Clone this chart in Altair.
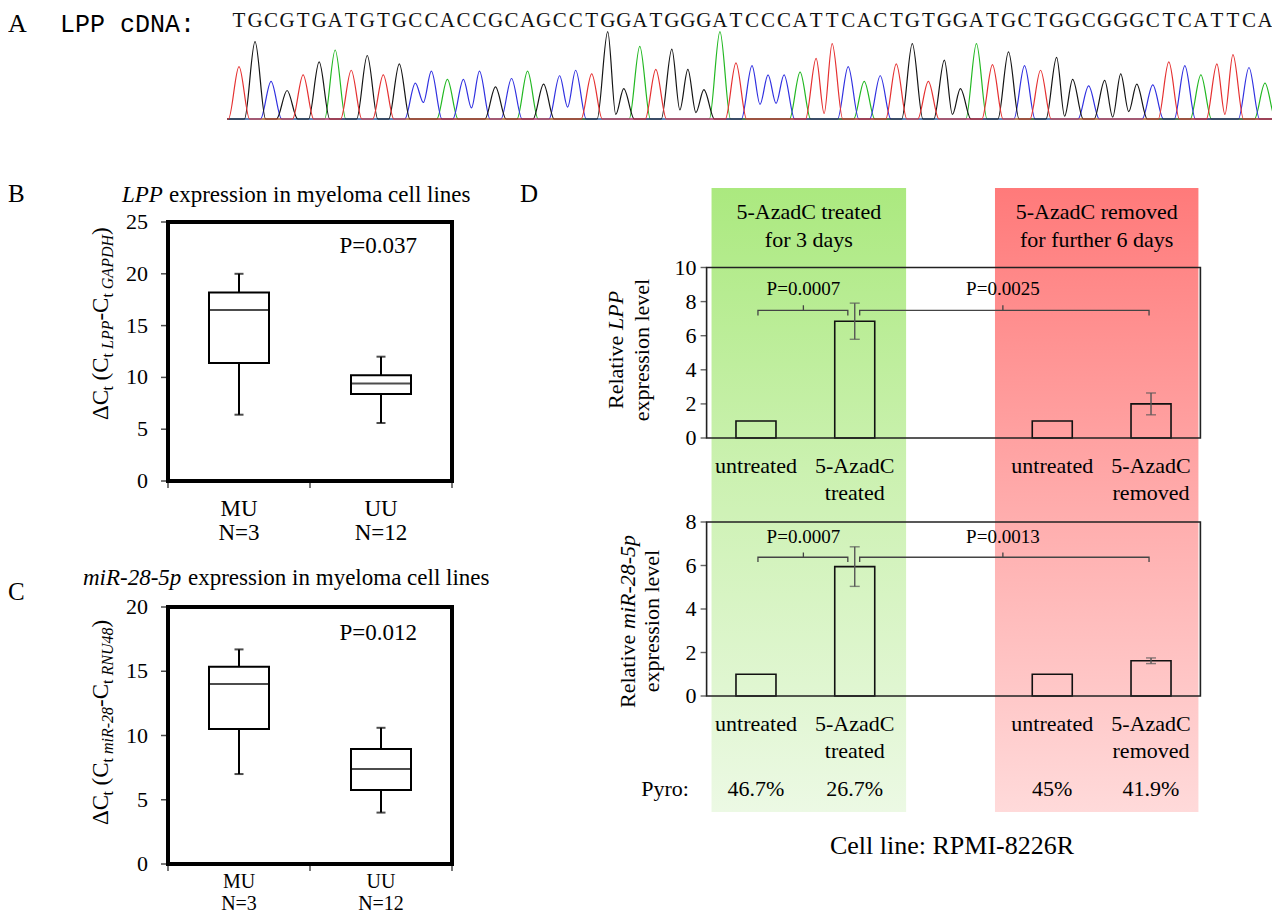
import altair as alt
import pandas as pd

SERIF = "Liberation Serif"
MONO = "Liberation Mono"

# ---------------- Panel A: LPP cDNA sequencing trace ----------------
SEQUENCE = "TGCGTGATGTGCCACCGCAGCCTGGATGGGATCCCATTCACTGTGGATGCTGGCGGGCTCATTCA"
PEAK_HEIGHTS = [57, 84, 41, 31, 48, 62, 75, 53, 69, 48, 60, 39, 52, 43, 43, 52,
                35, 44, 52, 38, 47, 53, 49, 95, 33, 79, 54, 76, 54, 32, 95, 61,
                58, 48, 48, 51, 66, 82, 57, 41, 47, 60, 82, 41, 64, 33, 82, 59, 73,
                58, 53, 67, 43, 36, 42, 49, 38, 37, 62, 58, 48, 60, 70, 56, 39]
VALLEY_AFTER = [11, 14, 20, 23, 27, 28, 32, 33, 36, 44, 51, 54, 55, 61]
VALLEY_HEIGHT = [18, 12, 13, 5, 10, 7, 16, 17, 6, 5, 3, 2, 8, 5]
BASES = ["A", "C", "G", "T"]
BASE_COLORS = ["#22b822", "#3030e0", "#151515", "#e53030"]

# ---------------- Panels B and C: box plots ----------------
GROUPS = ["MU\nN=3", "UU\nN=12"]
B_MIN = [6.4, 5.6]
B_Q1 = [11.4, 8.4]
B_MED = [16.5, 9.4]
B_Q3 = [18.2, 10.2]
B_MAX = [20.0, 12.0]
B_TICKS = [0, 5, 10, 15, 20, 25]
C_MIN = [7.0, 4.0]
C_Q1 = [10.5, 5.75]
C_MED = [14.0, 7.4]
C_Q3 = [15.35, 8.95]
C_MAX = [16.7, 10.6]
C_TICKS = [0, 5, 10, 15, 20]

# ---------------- Panel D: bar charts ----------------
D_LABELS = ["untreated", "5-AzadC\ntreated", "untreated", "5-AzadC\nremoved"]
D_SLOTS = [0, 1, 3, 4]
LPP_MEAN = [1.0, 6.85, 1.0, 2.0]
LPP_SD = [0.0, 1.06, 0.0, 0.64]
MIR_MEAN = [1.0, 5.95, 1.0, 1.62]
MIR_SD = [0.0, 0.91, 0.0, 0.13]
LPP_TICKS = [0, 2, 4, 6, 8, 10]
MIR_TICKS = [0, 2, 4, 6, 8]
LPP_P = ["P=0.0007", "P=0.0025"]
MIR_P = ["P=0.0007", "P=0.0013"]
BRACKET_FROM = [0.02, 1.05]
BRACKET_TO = [0.93, 3.98]
BRACKET_MID = [0.48, 2.5]
PYRO = ["46.7%", "26.7%", "45%", "41.9%"]
BAND_FROM = [-0.45, 2.42]
BAND_TO = [1.52, 4.48]
BAND_HEADERS = ["5-AzadC treated\nfor 3 days", "5-AzadC removed\nfor further 6 days"]

# ---------------- layout (chart pixels) ----------------
A_X_RANGE = [231, 1257]
A_Y_RANGE = [111, 19]
BOX_X_RANGE = [155, 449]
B_Y_RANGE = [473, 214]
C_Y_RANGE = [856, 599]
D_X_RANGE = [693.6, 1197.4]
DT_Y_RANGE = [430, 259.5]
DB_Y_RANGE = [688, 514]


def lin(domain, rng):
    return alt.Scale(domain=domain, range=rng, nice=False, zero=False)


def qx(field, scale):
    return alt.X(f"{field}:Q", scale=scale, axis=None)


def qy(field, scale):
    return alt.Y(f"{field}:Q", scale=scale, axis=None)


def text_at(text, x, y, size, align="left", baseline="alphabetic", angle=0,
            style="normal", font=SERIF, line_height=None):
    props = dict(font=font, fontSize=size, align=align, baseline=baseline,
                 fontStyle=style, color="black")
    if angle:
        props["angle"] = angle
    if "\n" in text:
        props["lineBreak"] = "\n"
        props["lineHeight"] = line_height or round(size * 1.2)
    return alt.Chart(pd.DataFrame({"t": [text]})).mark_text(**props).encode(
        text="t:N", x=alt.value(x), y=alt.value(y))


# ---------------- Panel A ----------------
valley = dict(zip(VALLEY_AFTER, VALLEY_HEIGHT))
trace_rows = []
for base in BASES:
    idx = [i for i, b in enumerate(SEQUENCE) if b == base]
    pts = [(-0.75, 0.0)]
    for k, i in enumerate(idx):
        if not (k > 0 and idx[k - 1] == i - 1):
            pts.append((i - 0.66, 0.0))
        pts.append((i, PEAK_HEIGHTS[i]))
        if i in valley:
            pts.append((i + 0.5, valley[i]))
        else:
            pts.append((i + 0.66, 0.0))
    pts.append((64.9, 0.0))
    for k, (x, h) in enumerate(pts):
        trace_rows.append({"base": base, "x": x, "h": h, "k": k})

xa = lin([0, 64], A_X_RANGE)
ya = lin([0, 100], A_Y_RANGE)
traces = alt.Chart(pd.DataFrame(trace_rows)).mark_line(
    interpolate="monotone", strokeWidth=1.2).encode(
    x=qx("x", xa), y=qy("h", ya),
    color=alt.Color("base:N", scale=alt.Scale(domain=BASES, range=BASE_COLORS), legend=None),
    order=alt.Order("k:Q"))
letters = alt.Chart(pd.DataFrame({"i": list(range(len(SEQUENCE))), "b": list(SEQUENCE)})).mark_text(
    font=SERIF, fontSize=21, baseline="alphabetic", color="#111").encode(
    x=qx("i", xa), text="b:N", y=alt.value(19))
panel_a = alt.layer(traces, letters)


# ---------------- Panels B / C ----------------
def box_panel(mins, q1, med, q3, maxs, ticks, ymax, yrange, p_text, p_y, cat_size, cat_dy, cat_lh):
    xs = lin([0, 2], BOX_X_RANGE)
    ys = lin([0, ymax], yrange)
    df = pd.DataFrame({"pos": [0.5, 1.5], "lo": mins, "q1": q1, "med": med,
                       "q3": q3, "hi": maxs, "lab": GROUPS, "zero": [0, 0]})
    base = alt.Chart(df)
    whisk = base.mark_rule(color="black", strokeWidth=2).encode(
        x=qx("pos", xs), y=qy("lo", ys), y2="hi:Q")
    cap_lo = base.mark_tick(orient="horizontal", size=9, thickness=2, color="black").encode(
        x=qx("pos", xs), y=qy("lo", ys))
    cap_hi = base.mark_tick(orient="horizontal", size=9, thickness=2, color="black").encode(
        x=qx("pos", xs), y=qy("hi", ys))
    box = base.mark_bar(size=60, fill="white", stroke="black", strokeWidth=2).encode(
        x=qx("pos", xs), y=qy("q1", ys), y2="q3:Q")
    median = base.mark_tick(orient="horizontal", size=60, thickness=2, color="black").encode(
        x=qx("pos", xs), y=qy("med", ys))
    cats = base.mark_text(font=SERIF, fontSize=cat_size, dy=cat_dy, lineBreak="\n",
                          lineHeight=cat_lh, baseline="alphabetic", color="black").encode(
        x=qx("pos", xs), y=qy("zero", ys), text="lab:N")
    tdf = pd.DataFrame({"v": ticks, "x0": [0] * len(ticks), "lab": [str(t) for t in ticks]})
    yt = alt.Chart(tdf).mark_tick(orient="horizontal", size=6, thickness=1.5,
                                  xOffset=-4, color="black").encode(x=qx("x0", xs), y=qy("v", ys))
    yl = alt.Chart(tdf).mark_text(font=SERIF, fontSize=22, align="right", baseline="middle",
                                  dx=-20, color="black").encode(
        x=qx("x0", xs), y=qy("v", ys), text="lab:N")
    xdf = pd.DataFrame({"p": [0, 1, 2], "y0": [0, 0, 0]})
    xt = alt.Chart(xdf).mark_tick(orient="vertical", size=6, thickness=1.5, yOffset=4,
                                  color="black").encode(x=qx("p", xs), y=qy("y0", ys))
    pdf = pd.DataFrame({"x": [1.48], "y": [p_y], "t": [p_text]})
    ptxt = alt.Chart(pdf).mark_text(font=SERIF, fontSize=23, baseline="middle",
                                    color="black").encode(x=qx("x", xs), y=qy("y", ys), text="t:N")
    fdf = pd.DataFrame({"x0": [0], "x1": [2], "y0": [0], "y1": [ymax]})
    frame = alt.Chart(fdf).mark_rect(fill="white", fillOpacity=0, stroke="black",
                                     strokeWidth=4).encode(
        x=qx("x0", xs), x2="x1:Q", y=qy("y0", ys), y2="y1:Q")
    return alt.layer(whisk, cap_lo, cap_hi, box, median, yt, yl, xt, cats, ptxt, frame)


panel_b = box_panel(B_MIN, B_Q1, B_MED, B_Q3, B_MAX, B_TICKS, 25, B_Y_RANGE, "P=0.037", 22.7,
                    23, 35, 24)
panel_c = box_panel(C_MIN, C_Q1, C_MED, C_Q3, C_MAX, C_TICKS, 20, C_Y_RANGE, "P=0.012", 18.0,
                    20, 24, 22)

# ---------------- Panel D ----------------
xd = lin([-0.5, 4.5], D_X_RANGE)


def bar_panel(means, sds, ticks, ymax, yrange, p_texts, level, depth, p_y, label_y):
    ys = lin([0, ymax], yrange)
    df = pd.DataFrame({"slot": D_SLOTS, "mean": means, "zero": [0] * 4, "lab": D_LABELS,
                       "lo": [m - s for m, s in zip(means, sds)],
                       "hi": [m + s for m, s in zip(means, sds)], "sd": sds})
    bars = alt.Chart(df).mark_bar(size=40, fill="white", fillOpacity=0, stroke="#111",
                                  strokeWidth=1.6).encode(
        x=qx("slot", xd), y=qy("zero", ys), y2="mean:Q")
    edf = df[df["sd"] > 0]
    err = alt.Chart(edf).mark_rule(color="#555", strokeWidth=1.4).encode(
        x=qx("slot", xd), y=qy("lo", ys), y2="hi:Q")
    cap1 = alt.Chart(edf).mark_tick(orient="horizontal", size=10, thickness=1.4, color="#555").encode(
        x=qx("slot", xd), y=qy("lo", ys))
    cap2 = alt.Chart(edf).mark_tick(orient="horizontal", size=10, thickness=1.4, color="#555").encode(
        x=qx("slot", xd), y=qy("hi", ys))
    fdf = pd.DataFrame({"x0": [-0.5], "x1": [4.5], "y0": [0], "y1": [ymax]})
    frame = alt.Chart(fdf).mark_rect(fill="white", fillOpacity=0, stroke="#222",
                                     strokeWidth=1.6).encode(
        x=qx("x0", xd), x2="x1:Q", y=qy("y0", ys), y2="y1:Q")
    tdf = pd.DataFrame({"v": ticks, "x0": [-0.5] * len(ticks), "lab": [str(t) for t in ticks]})
    yt = alt.Chart(tdf).mark_tick(orient="horizontal", size=6, thickness=1.4, xOffset=-3,
                                  color="#222").encode(x=qx("x0", xd), y=qy("v", ys))
    yl = alt.Chart(tdf).mark_text(font=SERIF, fontSize=22, align="right", baseline="middle",
                                  dx=-10, color="black").encode(
        x=qx("x0", xd), y=qy("v", ys), text="lab:N")
    rows = []
    for b, (x0, x1, xm) in enumerate(zip(BRACKET_FROM, BRACKET_TO, BRACKET_MID)):
        pts = [(x0, level - depth), (x0, level), (xm, level), (xm, level + depth),
               (xm, level), (x1, level), (x1, level - depth)]
        for k, (x, y) in enumerate(pts):
            rows.append({"b": b, "k": k, "x": x, "y": y})
    brackets = alt.Chart(pd.DataFrame(rows)).mark_line(color="#444", strokeWidth=1.3).encode(
        x=qx("x", xd), y=qy("y", ys), detail="b:N", order=alt.Order("k:Q"))
    pdf = pd.DataFrame({"x": BRACKET_MID, "y": [p_y, p_y], "t": p_texts})
    ptxt = alt.Chart(pdf).mark_text(font=SERIF, fontSize=19, baseline="middle",
                                    color="black").encode(x=qx("x", xd), y=qy("y", ys), text="t:N")
    cats = alt.Chart(df).mark_text(font=SERIF, fontSize=22, baseline="alphabetic",
                                   lineBreak="\n", lineHeight=27, color="black").encode(
        x=qx("slot", xd), y=alt.value(label_y), text="lab:N")
    return alt.layer(bars, err, cap1, cap2, frame, yt, yl, brackets, ptxt, cats)


GREEN_GRAD = alt.LinearGradient(
    gradient="linear", x1=0, x2=0, y1=0, y2=1,
    stops=[alt.GradientStop(color="#abe97f", offset=0),
           alt.GradientStop(color="#cbf1b0", offset=0.45),
           alt.GradientStop(color="#ecf9e4", offset=1)])
RED_GRAD = alt.LinearGradient(
    gradient="linear", x1=0, x2=0, y1=0, y2=1,
    stops=[alt.GradientStop(color="#ff7a7a", offset=0),
           alt.GradientStop(color="#ffa6a6", offset=0.45),
           alt.GradientStop(color="#ffdada", offset=1)])

band_g = alt.Chart(pd.DataFrame({"x0": [BAND_FROM[0]], "x1": [BAND_TO[0]]})).mark_rect(
    fill=GREEN_GRAD).encode(x=qx("x0", xd), x2="x1:Q", y=alt.value(180), y2=alt.value(804))
band_r = alt.Chart(pd.DataFrame({"x0": [BAND_FROM[1]], "x1": [BAND_TO[1]]})).mark_rect(
    fill=RED_GRAD).encode(x=qx("x0", xd), x2="x1:Q", y=alt.value(180), y2=alt.value(804))
hdf = pd.DataFrame({"x": [(a + b) / 2 for a, b in zip(BAND_FROM, BAND_TO)], "t": BAND_HEADERS})
headers = alt.Chart(hdf).mark_text(font=SERIF, fontSize=22, baseline="alphabetic",
                                   lineBreak="\n", lineHeight=28, color="black").encode(
    x=qx("x", xd), y=alt.value(210.5), text="t:N")
pyro = alt.Chart(pd.DataFrame({"slot": D_SLOTS, "t": PYRO})).mark_text(
    font=SERIF, fontSize=22, baseline="alphabetic", color="black").encode(
    x=qx("slot", xd), y=alt.value(787.5), text="t:N")

d_top = bar_panel(LPP_MEAN, LPP_SD, LPP_TICKS, 10, DT_Y_RANGE, LPP_P, 7.49, 0.3, 8.73, 464.5)
d_bot = bar_panel(MIR_MEAN, MIR_SD, MIR_TICKS, 8, DB_Y_RANGE, MIR_P, 6.38, 0.22, 7.32, 722.5)
panel_d = alt.layer(band_g, band_r, headers, pyro, d_top, d_bot).resolve_scale(y="independent")

# ---------------- free texts ----------------
texts = [
    text_at("A", 0, 24, 26),
    text_at("LPP cDNA:", 52, 24, 25, font=MONO),
    text_at("B", 0, 194, 25),
    text_at("C", 0, 592, 25),
    text_at("D", 512, 194, 25),
    text_at("LPP", 114, 194, 23, style="italic"),
    text_at("expression in myeloma cell lines", 161, 194, 23),
    text_at("miR-28-5p", 75, 577, 23, style="italic"),
    text_at("expression in myeloma cell lines", 180, 577, 23),
    text_at("Pyro:", 681, 787.5, 22, align="right"),
    text_at("Cell line: RPMI-8226R", 944, 846, 26, align="center"),
    # D axis titles
    text_at("Relative ", 608, 401, 22, baseline="middle", angle=270),
    text_at("LPP", 608, 322, 22, baseline="middle", angle=270, style="italic"),
    text_at("expression level", 634, 342, 22, align="center", baseline="middle", angle=270),
    text_at("Relative ", 620, 700, 22, baseline="middle", angle=270),
    text_at("miR-28-5p", 620, 621, 22, baseline="middle", angle=270, style="italic"),
    text_at("expression level", 644, 613, 22, align="center", baseline="middle", angle=270),
]

# B / C axis titles with subscripts (rotated)
B_TITLE = [("ΔC", 412, "m", "normal"), ("t", 382.6, "s", "normal"), ("(C", 372.5, "m", "normal"),
           ("t", 349.4, "s", "normal"), ("LPP", 341, "s", "italic"), ("-C", 312.6, "m", "normal"),
           ("t", 289.6, "s", "normal"), ("GAPDH", 281.2, "s", "italic"), (")", 227, "m", "normal")]
C_TITLE = [("ΔC", 817, "m", "normal"), ("t", 787.6, "s", "normal"), ("(C", 777.5, "m", "normal"),
           ("t", 754.4, "s", "normal"), ("miR-28", 746, "s", "italic"), ("-C", 698.9, "m", "normal"),
           ("t", 675.9, "s", "normal"), ("RNU48", 667.5, "s", "italic"), (")", 619.5, "m", "normal")]
for seg_list in (B_TITLE, C_TITLE):
    for t, y, kind, style in seg_list:
        if kind == "m":
            texts.append(text_at(t, 100, y, 23, angle=270, style=style))
        else:
            texts.append(text_at(t, 105, y, 16, angle=270, style=style))

chart = alt.layer(panel_a, panel_b, panel_c, panel_d, *texts).resolve_scale(
    x="independent", y="independent", color="independent"
).properties(
    width=1264, height=907, padding=0,
    autosize=alt.AutoSizeParams(type="none"), background="white"
).configure_view(stroke=None)

chart.save("out.html", embed_options={"renderer": "svg", "actions": False})
